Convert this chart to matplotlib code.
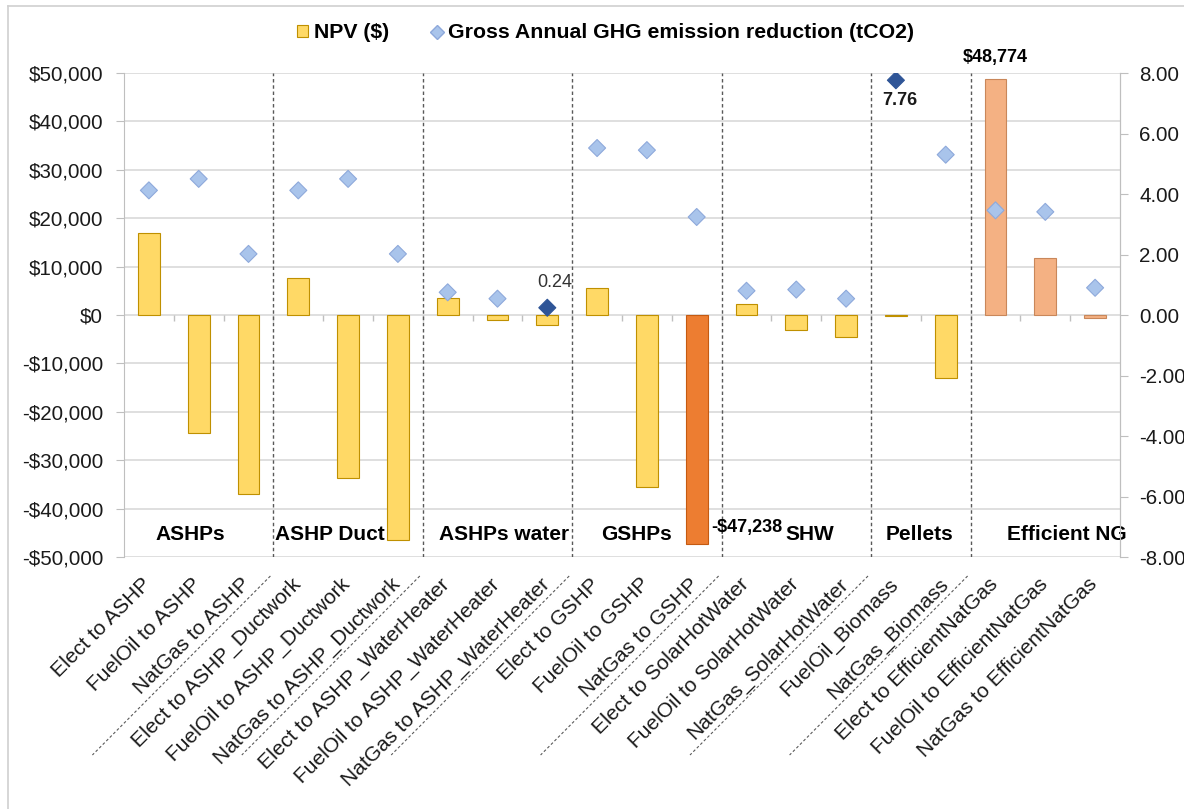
import matplotlib
matplotlib.use("Agg")
import matplotlib.pyplot as plt
from matplotlib.lines import Line2D
from matplotlib.patches import Patch
from matplotlib.transforms import ScaledTranslation
import numpy as np

plt.rcParams['font.family'] = ['Liberation Sans', 'DejaVu Sans']

categories = ["Elect to ASHP", "FuelOil to ASHP", "NatGas to ASHP",
              "Elect to ASHP_Ductwork", "FuelOil to ASHP_Ductwork", "NatGas to ASHP_Ductwork",
              "Elect to ASHP_WaterHeater", "FuelOil to ASHP_WaterHeater", "NatGas to ASHP_WaterHeater",
              "Elect to GSHP", "FuelOil to GSHP", "NatGas to GSHP",
              "Elect to SolarHotWater", "FuelOil to SolarHotWater", "NatGas_SolarHotWater",
              "FuelOil_Biomass", "NatGas_Biomass",
              "Elect to EfficientNatGas", "FuelOil to EfficientNatGas", "NatGas to EfficientNatGas"]
npv = [16900, -24300, -37000, 7600, -33700, -46400, 3500, -1000, -2000,
       5600, -35500, -47238, 2200, -3000, -4500, -300, -13000, 48774, 11700, -700]
ghg = [4.12, 4.50, 2.02, 4.12, 4.50, 2.02, 0.75, 0.54, 0.24,
       5.52, 5.45, 3.24, 0.80, 0.84, 0.54, 7.76, 5.30, 3.46, 3.41, 0.90]
group_names = ["ASHPs", "ASHP Duct", "ASHPs water", "GSHPs", "SHW", "Pellets", "Efficient NG"]
group_sizes = [3, 3, 3, 3, 3, 2, 3]
group_label_x = [0.83, 3.64, 7.13, 9.8, 13.27, 15.48, 18.44]

yellow, yellow_edge = "#FFD966", "#BF9000"
dark_orange, light_orange = "#ED7D31", "#F4B183"
light_blue, light_blue_edge = "#A9C4EB", "#8EA9DB"
dark_blue = "#2F5597"

bar_colors = [yellow] * 20
bar_edges = [yellow_edge] * 20
bar_colors[11] = dark_orange; bar_edges[11] = "#C55A11"
for i in (17, 18, 19):
    bar_colors[i] = light_orange; bar_edges[i] = "#C9875A"
pt_colors = [light_blue] * 20
pt_edges = [light_blue_edge] * 20
for i in (8, 15):
    pt_colors[i] = dark_blue; pt_edges[i] = dark_blue

W, H = 1184, 809
TOP, BOT, LEFT, RIGHT = 73, 557, 124, 1120
fig = plt.figure(figsize=(W / 100, H / 100), dpi=100)
ax = fig.add_axes([LEFT / W, 1 - BOT / H, (RIGHT - LEFT) / W, (BOT - TOP) / H])
x = np.arange(len(categories))
ax.set_xlim(-0.5, len(categories) - 0.5)
ax.set_ylim(-50000, 50000)
ax.set_yticks(np.arange(-50000, 50001, 10000))
ax.set_yticklabels([("-$" if v < 0 else "$") + f"{abs(v):,}" for v in range(-50000, 50001, 10000)],
                   fontsize=14.8, color="#1a1a1a")
ax.grid(axis='y', color="#D9D9D9", linewidth=1.2, zorder=0)
ax.set_axisbelow(True)
for s in ('top', 'bottom'):
    ax.spines[s].set_visible(False)
for s in ('left', 'right'):
    ax.spines[s].set_color("#BFBFBF")
ax.tick_params(axis='y', length=6, color="#BFBFBF", pad=9)

ax.bar(x, npv, width=0.44, color=bar_colors, edgecolor=bar_edges, linewidth=0.8, zorder=2)

# category tick marks at zero line
bounds = np.arange(0.5, len(categories) - 0.5, 1.0)
ax.vlines(bounds, -1200, 0, color="#BFBFBF", linewidth=1, zorder=1)

# group separators
edges = np.cumsum(group_sizes)[:-1] - 0.5
ax.vlines(edges, -50000, 50000, color="#595959", linestyles=(0, (2.5, 2)), linewidth=1, zorder=3)

ax.set_xticks(x)
ax.set_xticklabels(categories, rotation=45, ha='right', rotation_mode='anchor', fontsize=15,
                   color="#1a1a1a")
ax.tick_params(axis='x', length=0, pad=8)
offset = ScaledTranslation(-7.5 / 100, -6.5 / 100, fig.dpi_scale_trans)
for lab in ax.get_xticklabels():
    lab.set_transform(lab.get_transform() + offset)

# slanted separators in label area
for e in edges:
    xp = LEFT + (e + 0.5) * (RIGHT - LEFT) / len(categories)
    fig.add_artist(Line2D([(xp - 3) / W, (xp - 181) / W], [1 - 576 / H, 1 - 755 / H],
                          color="#595959", linewidth=0.8, linestyle=(0, (2.5, 2))))

for name, gx in zip(group_names, group_label_x):
    ax.text(gx, -45400, name, ha='center', va='center', fontsize=15, fontweight='bold', zorder=4)

ax2 = ax.twinx()
ax2.set_ylim(-8, 8)
ax2.set_yticks(np.arange(-8, 8.1, 2))
ax2.set_yticklabels([f"{v:.2f}" for v in np.arange(-8, 8.1, 2)], fontsize=14.8, color="#1a1a1a")
ax2.tick_params(axis='y', length=6, color="#BFBFBF", pad=8)
for s in ('top', 'bottom', 'left'):
    ax2.spines[s].set_visible(False)
ax2.spines['right'].set_color("#BFBFBF")
ax2.scatter(x, ghg, marker='D', s=75, c=pt_colors, edgecolors=pt_edges, linewidths=0.8, zorder=5)

# annotations
ax2.text(8.15, 1.06, "0.24", ha='center', va='center', fontsize=13, color="#333333")
ax2.text(15.08, 7.1, "7.76", ha='center', va='center', fontsize=13, fontweight='bold', color="#1a1a1a")
ax.text(17, 53100, "$48,774", ha='center', va='center', fontsize=13, fontweight='bold', clip_on=False)
ax.text(11.3, -44000, "-$47,238", ha='left', va='center', fontsize=13, fontweight='bold', clip_on=False,
        zorder=6)

handles = [Patch(facecolor=yellow, edgecolor=yellow_edge, linewidth=0.8),
           Line2D([], [], marker='D', linestyle='none', markersize=7.5, markerfacecolor=light_blue,
                  markeredgecolor=light_blue_edge)]
fig.legend(handles, ["NPV ($)", "Gross Annual GHG emission reduction (tCO2)"], ncol=2,
           loc='center', bbox_to_anchor=(0.5114, 1 - 33 / H), frameon=False,
           prop={'weight': 'bold', 'size': 15.3}, handlelength=0.55, handleheight=0.55,
           handletextpad=0.25, columnspacing=2.0)

# chart border
fig.add_artist(Line2D([8 / W, 8 / W], [0, 1 - 6 / H], color="#D0D0D0", linewidth=1.2))
fig.add_artist(Line2D([8 / W, 1], [1 - 6 / H, 1 - 6 / H], color="#D0D0D0", linewidth=1.2))

fig.savefig("out.png", dpi=100)
